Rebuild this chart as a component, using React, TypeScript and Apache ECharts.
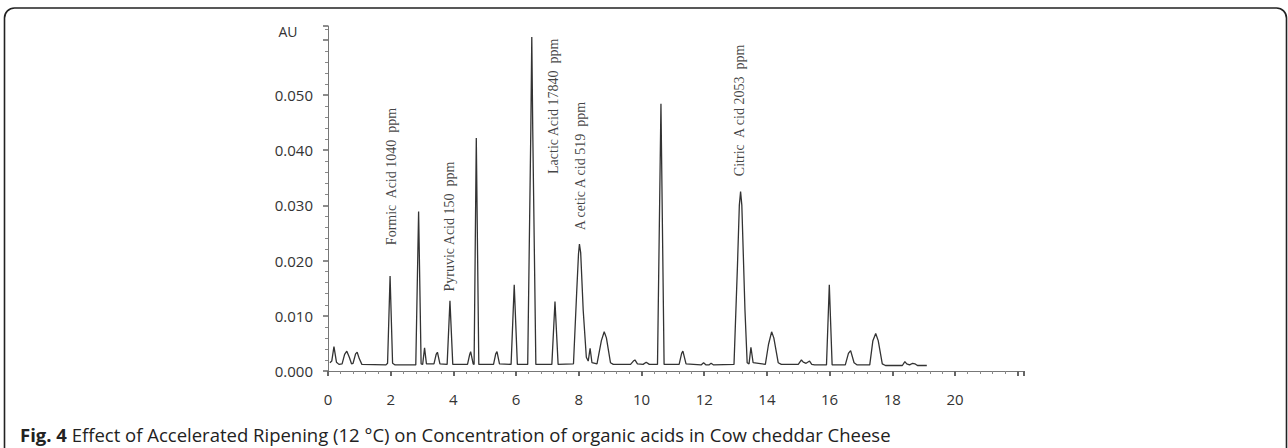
import React, { useEffect, useRef } from "react";
import * as echarts from "echarts";

// Chromatogram trace: retention time (min) and absorbance (AU)
const retentionTime = [
  0.06, 0.12, 0.19, 0.27, 0.35,
  0.45, 0.53, 0.6, 0.68, 0.75,
  0.8, 0.88, 0.93, 1.0, 1.08,
  1.85, 1.9, 1.98, 2.06, 2.14,
  2.8, 2.89, 2.97, 3.02, 3.08, 3.14,
  3.38, 3.45, 3.49, 3.57,
  3.8, 3.89, 3.98,
  4.45, 4.52, 4.55, 4.63,
  4.66, 4.73, 4.81,
  5.28, 5.35, 5.39, 5.47,
  5.84, 5.94, 6.04,
  6.37, 6.47, 6.5, 6.53, 6.63,
  7.14, 7.24, 7.34,
  7.83, 7.93, 7.99, 8.02, 8.06, 8.14, 8.24, 8.3, 8.36, 8.42,
  8.58, 8.72, 8.81, 8.88, 9.01, 9.1,
  9.65, 9.74, 9.79, 9.87, 10.05, 10.15, 10.25,
  10.51, 10.62, 10.72,
  11.2, 11.28, 11.32, 11.42,
  11.9, 11.98, 12.06, 12.15, 12.22, 12.3,
  12.95, 13.06, 13.12, 13.16, 13.2, 13.3, 13.37, 13.43, 13.49, 13.56,
  13.95, 14.05, 14.15, 14.22, 14.36, 14.46,
  15.0, 15.1, 15.16, 15.25, 15.36, 15.43, 15.52,
  15.9, 15.99, 16.08,
  16.5, 16.6, 16.67, 16.78, 16.88,
  17.28, 17.38, 17.47, 17.55, 17.68, 17.78,
  18.32, 18.4, 18.46, 18.55, 18.65, 18.72, 18.8, 19.1,
];
const absorbance = [
  0.0015, 0.0018, 0.0044, 0.0016, 0.0012,
  0.0013, 0.0030, 0.0036, 0.0025, 0.0013,
  0.0014, 0.0031, 0.0034, 0.0022, 0.0012,
  0.0011, 0.0014, 0.0172, 0.0014, 0.0011,
  0.0011, 0.0289, 0.0013, 0.0012, 0.0042, 0.0013,
  0.0013, 0.0030, 0.0034, 0.0013,
  0.0012, 0.0127, 0.0012,
  0.0012, 0.0030, 0.0035, 0.0013,
  0.0012, 0.0422, 0.0012,
  0.0012, 0.0031, 0.0035, 0.0013,
  0.0012, 0.0156, 0.0012,
  0.0012, 0.0440, 0.0605, 0.0440, 0.0012,
  0.0012, 0.0126, 0.0012,
  0.0013, 0.0140, 0.0212, 0.0230, 0.0214, 0.0110, 0.0025, 0.0018, 0.0041, 0.0015,
  0.0013, 0.0055, 0.0071, 0.0060, 0.0015, 0.0012,
  0.0012, 0.0018, 0.0020, 0.0013, 0.0012, 0.0016, 0.0012,
  0.0012, 0.0484, 0.0012,
  0.0012, 0.0032, 0.0036, 0.0013,
  0.0011, 0.0015, 0.0011, 0.0011, 0.0014, 0.0011,
  0.0012, 0.0190, 0.0300, 0.0325, 0.0300, 0.0110, 0.0015, 0.0013, 0.0043, 0.0015,
  0.0012, 0.0048, 0.0071, 0.0060, 0.0015, 0.0012,
  0.0012, 0.0020, 0.0016, 0.0014, 0.0018, 0.0012, 0.0011,
  0.0011, 0.0156, 0.0011,
  0.0011, 0.0032, 0.0037, 0.0015, 0.0011,
  0.0011, 0.0055, 0.0068, 0.0055, 0.0013, 0.0010,
  0.0010, 0.0017, 0.0013, 0.0011, 0.0014, 0.0013, 0.0010, 0.0010,
];

// Peak annotations (text starts at the given time / AU and runs upward)
const peakLabelNames = [
  "Formic  Acid 1040  ppm",
  "Pyruvic Acid 150  ppm",
  "Lactic Acid 17840  ppm",
  "A cetic A cid 519  ppm",
  "Citric  A cid 2053  ppm",
];
const peakLabelTimes = [2.03, 3.89, 7.19, 8.04, 13.14];
const peakLabelAU = [0.0228, 0.0144, 0.0357, 0.0255, 0.0353];

const xTicks = [0, 2, 4, 6, 8, 10, 12, 14, 16, 18, 20];
const yTicks = [0, 0.01, 0.02, 0.03, 0.04, 0.05];

const caption =
  "Effect of Accelerated Ripening (12 °C) on Concentration of organic acids in Cow cheddar Cheese";

export default function App() {
  const ref = useRef<HTMLDivElement>(null);

  useEffect(() => {
    if (!ref.current) return;
    const chart = echarts.init(ref.current, null, { renderer: "svg" });
    const trace = retentionTime.map((t, i) => [t, absorbance[i]]);
    const labels = peakLabelNames.map((n, i) => ({
      value: [peakLabelTimes[i], peakLabelAU[i]],
      name: n,
    }));
    const axisFont = "'Open Sans', sans-serif";
    chart.setOption({
      animation: false,
      backgroundColor: "#ffffff",
      grid: { left: 328, right: 264, top: 26, bottom: 77, containLabel: false },
      xAxis: {
        type: "value",
        min: 0,
        max: 22.2,
        interval: 2,
        axisLine: { lineStyle: { color: "#777", width: 1 } },
        axisTick: { show: true, length: 5, lineStyle: { color: "#666", width: 2 } },
        minorTick: { show: true, splitNumber: 5, length: 3, lineStyle: { color: "#888", width: 1 } },
        splitLine: { show: false },
        axisLabel: {
          margin: 20,
          color: "#333",
          fontSize: 15,
          fontFamily: axisFont,
          formatter: (v: number) => (xTicks.includes(Math.round(v)) && v <= 20 ? String(v) : ""),
        },
      },
      yAxis: {
        type: "value",
        min: 0,
        max: 0.0625,
        interval: 0.01,
        axisLine: { show: true, lineStyle: { color: "#777", width: 1 } },
        axisTick: { show: true, length: 5, lineStyle: { color: "#666", width: 1.5 } },
        minorTick: { show: true, splitNumber: 5, length: 3, lineStyle: { color: "#888", width: 1 } },
        splitLine: { show: false },
        axisLabel: {
          margin: 15,
          color: "#333",
          fontSize: 15,
          fontFamily: axisFont,
          formatter: (v: number) => {
            const hit = yTicks.find((y) => Math.abs(y - v) < 1e-6);
            return hit !== undefined ? hit.toFixed(3) : "";
          },
        },
      },
      series: [
        {
          type: "line",
          data: trace,
          symbol: "none",
          smooth: false,
          lineStyle: { color: "#333", width: 1.3 },
          z: 3,
        },
        {
          type: "scatter",
          data: labels,
          symbolSize: 0,
          silent: true,
          label: {
            show: true,
            position: [0, 0],
            rotate: 90,
            align: "left",
            verticalAlign: "middle",
            formatter: (p: any) => p.name,
            fontFamily: "'Liberation Serif', 'DejaVu Serif', serif",
            fontSize: 14,
            color: "#111",
          },
          z: 4,
        },
      ],
      graphic: [
        {
          type: "rect",
          shape: { x: 4.5, y: 8, width: 1282, height: 520, r: 10 },
          style: { fill: "none", stroke: "#222", lineWidth: 1.6 },
          silent: true,
        },
        {
          type: "text",
          x: 288,
          y: 31,
          style: {
            text: "AU",
            fill: "#333",
            font: "14px 'Open Sans', sans-serif",
            align: "center",
            verticalAlign: "middle",
          },
        },
        {
          type: "text",
          x: 20,
          y: 434,
          style: {
            text: "{b|Fig. 4} " + caption,
            fill: "#222",
            font: "18.5px 'Open Sans', sans-serif",
            verticalAlign: "middle",
            rich: {
              b: { fontWeight: "bold", fontSize: 18.5, fontFamily: "'Open Sans', sans-serif", fill: "#222" },
            },
          },
        },
      ],
    });
    return () => chart.dispose();
  }, []);

  return (
    <div
      ref={ref}
      style={{ position: "absolute", left: 0, top: 0, width: 1288, height: 448, background: "#fff" }}
    />
  );
}
